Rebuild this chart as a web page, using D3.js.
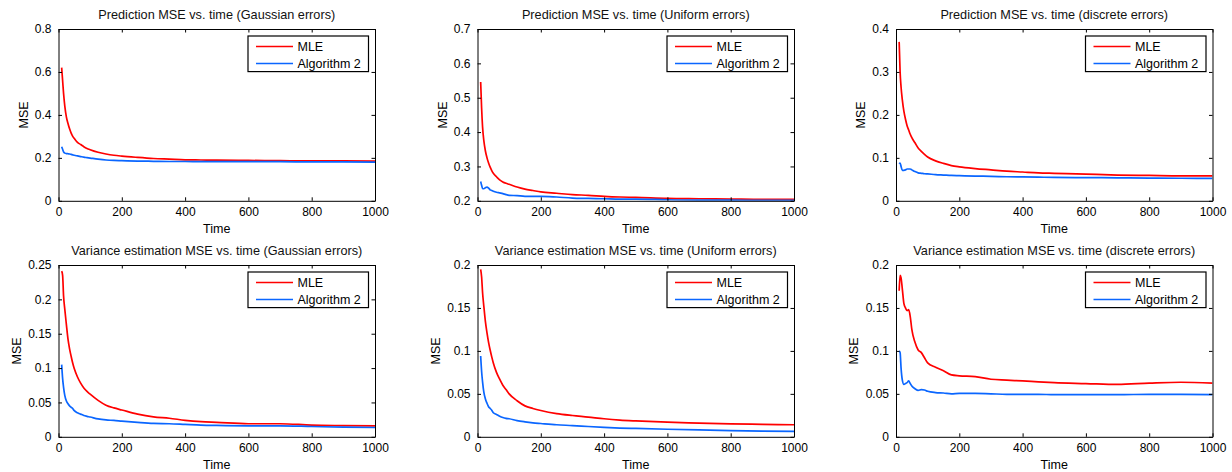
<!DOCTYPE html>
<html>
<head>
<meta charset="utf-8">
<script src="https://cdn.jsdelivr.net/npm/d3@7"></script>
<style>
  html, body { margin: 0; padding: 0; background: #fff; }
  svg { display: block; font-family: "Liberation Sans", Arial, Helvetica, sans-serif; }
</style>
</head>
<body>
<svg id="chart" width="1232" height="472"></svg>
<script>
// ---------------- DATA ----------------
const times = [10,13,16,20,25,30,35,40,45,50,60,70,80,90,100,125,150,175,200,250,300,350,400,450,500,600,700,800,900,1000];

const predGaussMLE  = [0.620,0.560,0.500,0.440,0.390,0.360,0.335,0.315,0.300,0.290,0.272,0.262,0.252,0.244,0.238,0.226,0.218,0.212,0.208,0.202,0.197,0.194,0.191,0.190,0.189,0.188,0.187,0.186,0.186,0.185];
const predGaussAlg2 = [0.252,0.240,0.228,0.222,0.220,0.219,0.218,0.216,0.214,0.212,0.209,0.206,0.203,0.201,0.199,0.194,0.190,0.188,0.187,0.185,0.184,0.183,0.183,0.182,0.182,0.182,0.182,0.181,0.181,0.180];

const predUnifMLE   = [0.546,0.470,0.415,0.375,0.345,0.325,0.310,0.298,0.288,0.280,0.270,0.261,0.255,0.251,0.248,0.240,0.234,0.230,0.226,0.222,0.218,0.216,0.213,0.211,0.210,0.207,0.206,0.205,0.204,0.204];
const predUnifAlg2  = [0.256,0.245,0.236,0.235,0.238,0.240,0.237,0.232,0.230,0.228,0.225,0.223,0.221,0.218,0.216,0.215,0.213,0.213,0.213,0.211,0.208,0.207,0.206,0.205,0.205,0.203,0.202,0.202,0.201,0.201];

const predDiscMLE   = [0.370,0.300,0.265,0.235,0.208,0.190,0.175,0.165,0.155,0.147,0.135,0.123,0.115,0.108,0.102,0.093,0.087,0.082,0.079,0.075,0.072,0.069,0.067,0.065,0.064,0.062,0.060,0.059,0.058,0.058];
const predDiscAlg2  = [0.086,0.088,0.080,0.071,0.071,0.072,0.074,0.074,0.074,0.072,0.068,0.065,0.064,0.063,0.0625,0.061,0.060,0.059,0.0585,0.0575,0.057,0.056,0.0555,0.055,0.0545,0.054,0.0535,0.053,0.0525,0.052];

const varGaussMLE   = [0.241,0.235,0.205,0.185,0.163,0.142,0.128,0.117,0.107,0.099,0.087,0.078,0.071,0.066,0.062,0.053,0.046,0.042,0.039,0.033,0.029,0.027,0.024,0.022,0.021,0.019,0.019,0.017,0.0163,0.0158];
const varGaussAlg2  = [0.105,0.085,0.072,0.060,0.052,0.048,0.045,0.043,0.041,0.038,0.035,0.033,0.031,0.0298,0.0288,0.026,0.0245,0.0238,0.0228,0.021,0.0195,0.019,0.018,0.017,0.0165,0.016,0.016,0.015,0.014,0.0135];

const varUnifMLE    = [0.195,0.186,0.168,0.152,0.134,0.121,0.110,0.101,0.093,0.086,0.075,0.067,0.060,0.055,0.050,0.042,0.036,0.033,0.0306,0.027,0.0248,0.023,0.021,0.0195,0.0185,0.017,0.016,0.015,0.0145,0.014];
const varUnifAlg2   = [0.094,0.076,0.064,0.052,0.044,0.039,0.035,0.033,0.031,0.028,0.026,0.024,0.0225,0.0215,0.021,0.0188,0.0174,0.0163,0.0155,0.014,0.0131,0.012,0.011,0.0102,0.0097,0.0088,0.008,0.0073,0.0067,0.0062];

const varDiscMLE    = [0.170,0.188,0.185,0.172,0.155,0.150,0.147,0.148,0.140,0.125,0.110,0.101,0.098,0.092,0.086,0.081,0.077,0.072,0.071,0.070,0.067,0.066,0.065,0.064,0.063,0.062,0.061,0.0625,0.0635,0.0625];
const varDiscAlg2   = [0.100,0.098,0.080,0.066,0.061,0.062,0.063,0.065,0.062,0.059,0.056,0.054,0.055,0.0545,0.053,0.0515,0.051,0.050,0.0505,0.0505,0.050,0.0495,0.0495,0.0495,0.049,0.049,0.049,0.0495,0.0495,0.0492];

const titles = [
  "Prediction MSE vs. time (Gaussian errors)",
  "Prediction MSE vs. time (Uniform errors)",
  "Prediction MSE vs. time (discrete errors)",
  "Variance estimation MSE vs. time (Gaussian errors)",
  "Variance estimation MSE vs. time (Uniform errors)",
  "Variance estimation MSE vs. time (discrete errors)"
];
const yDomains = [[0,0.8],[0.2,0.7],[0,0.4],[0,0.25],[0,0.2],[0,0.2]];
const yTicks = [
  [0,0.2,0.4,0.6,0.8],
  [0.2,0.3,0.4,0.5,0.6,0.7],
  [0,0.1,0.2,0.3,0.4],
  [0,0.05,0.1,0.15,0.2,0.25],
  [0,0.05,0.1,0.15,0.2],
  [0,0.05,0.1,0.15,0.2]
];
const xTicks = [0,200,400,600,800,1000];
const seriesNames = ["MLE", "Algorithm 2"];
const panelSeries = [
  [predGaussMLE, predGaussAlg2],
  [predUnifMLE, predUnifAlg2],
  [predDiscMLE, predDiscAlg2],
  [varGaussMLE, varGaussAlg2],
  [varUnifMLE, varUnifAlg2],
  [varDiscMLE, varDiscAlg2]
];
const xLabel = "Time";
const yLabel = "MSE";

// ---------------- LAYOUT ----------------
const colors = ["#ff0000", "#0a66ff"];
const lefts = [58.5, 477.5, 896];
const tops = [29, 265];
const plotW = 316.5;
const plotH = 171.8;
const tickLen = 3.5;

const svg = d3.select("#chart");

panelSeries.forEach((series, i) => {
  const col = i % 3, row = Math.floor(i / 3);
  const g = svg.append("g").attr("transform", `translate(${lefts[col]},${tops[row]})`);

  const x = d3.scaleLinear().domain([0, 1000]).range([0, plotW]);
  const y = d3.scaleLinear().domain(yDomains[i]).range([plotH, 0]);

  const clipId = "clip" + i;
  g.append("clipPath").attr("id", clipId)
    .append("rect").attr("x", 0).attr("y", 0).attr("width", plotW).attr("height", plotH);

  const line = d3.line().x((d, k) => x(times[k])).y(d => y(d)).curve(d3.curveMonotoneX);
  series.forEach((vals, s) => {
    g.append("path")
      .attr("clip-path", `url(#${clipId})`)
      .attr("d", line(vals))
      .attr("fill", "none")
      .attr("stroke", colors[s])
      .attr("stroke-width", 1.7)
      .attr("stroke-linejoin", "round");
  });

  const fmt = v => String(+v.toFixed(3));

  const xAxis = d3.axisBottom(x).tickValues(xTicks).tickSizeInner(-tickLen).tickSizeOuter(0).tickPadding(7).tickFormat(d3.format("d"));
  const yAxis = d3.axisLeft(y).tickValues(yTicks[i]).tickSizeInner(-tickLen).tickSizeOuter(0).tickPadding(7).tickFormat(fmt);
  const xTop = d3.axisTop(x).tickValues(xTicks).tickSizeInner(-tickLen).tickSizeOuter(0).tickFormat("");
  const yRight = d3.axisRight(y).tickValues(yTicks[i]).tickSizeInner(-tickLen).tickSizeOuter(0).tickFormat("");

  const gx = g.append("g").attr("transform", `translate(0,${plotH})`).call(xAxis);
  const gy = g.append("g").call(yAxis);
  const gxt = g.append("g").call(xTop);
  const gyr = g.append("g").attr("transform", `translate(${plotW},0)`).call(yRight);

  [gx, gy, gxt, gyr].forEach(a => {
    a.select(".domain").attr("stroke", "#000").attr("stroke-width", 1);
    a.selectAll(".tick line").attr("stroke", "#000").attr("stroke-width", 1);
    a.selectAll(".tick text").attr("fill", "#000").style("font-size", "12px")
      .style("font-family", "'Liberation Sans', Arial, Helvetica, sans-serif");
  });
  gx.selectAll(".tick text").attr("dy", "0.71em");

  g.append("text")
    .attr("x", plotW / 2).attr("y", -10)
    .attr("text-anchor", "middle")
    .style("font-size", "12.7px")
    .attr("fill", "#111")
    .text(titles[i]);

  g.append("text")
    .attr("x", plotW / 2).attr("y", plotH + 32)
    .attr("text-anchor", "middle")
    .style("font-size", "12.5px")
    .attr("fill", "#000")
    .text(xLabel);

  const yLabOff = (row === 0) ? 35.3 : 42.3;
  g.append("text")
    .attr("transform", `translate(${-yLabOff},${plotH / 2}) rotate(-90)`)
    .attr("text-anchor", "middle")
    .attr("dy", "0.35em")
    .style("font-size", "12.5px")
    .attr("fill", "#000")
    .text(yLabel);

  const lgW = 120.5, lgH = 35.6;
  const lg = g.append("g").attr("transform", `translate(${plotW - 6.5 - lgW},7)`);
  lg.append("rect").attr("x", 0).attr("y", 0).attr("width", lgW).attr("height", lgH)
    .attr("fill", "#fff").attr("stroke", "#000").attr("stroke-width", 1.2);
  seriesNames.forEach((name, s) => {
    const cy = 10.5 + s * 17;
    lg.append("line").attr("x1", 8).attr("x2", 45).attr("y1", cy).attr("y2", cy)
      .attr("stroke", colors[s]).attr("stroke-width", 1.7);
    lg.append("text").attr("x", 49.5).attr("y", cy).attr("dy", "0.36em")
      .style("font-size", "12.5px").attr("fill", "#000").text(name);
  });
});
</script>
</body>
</html>
